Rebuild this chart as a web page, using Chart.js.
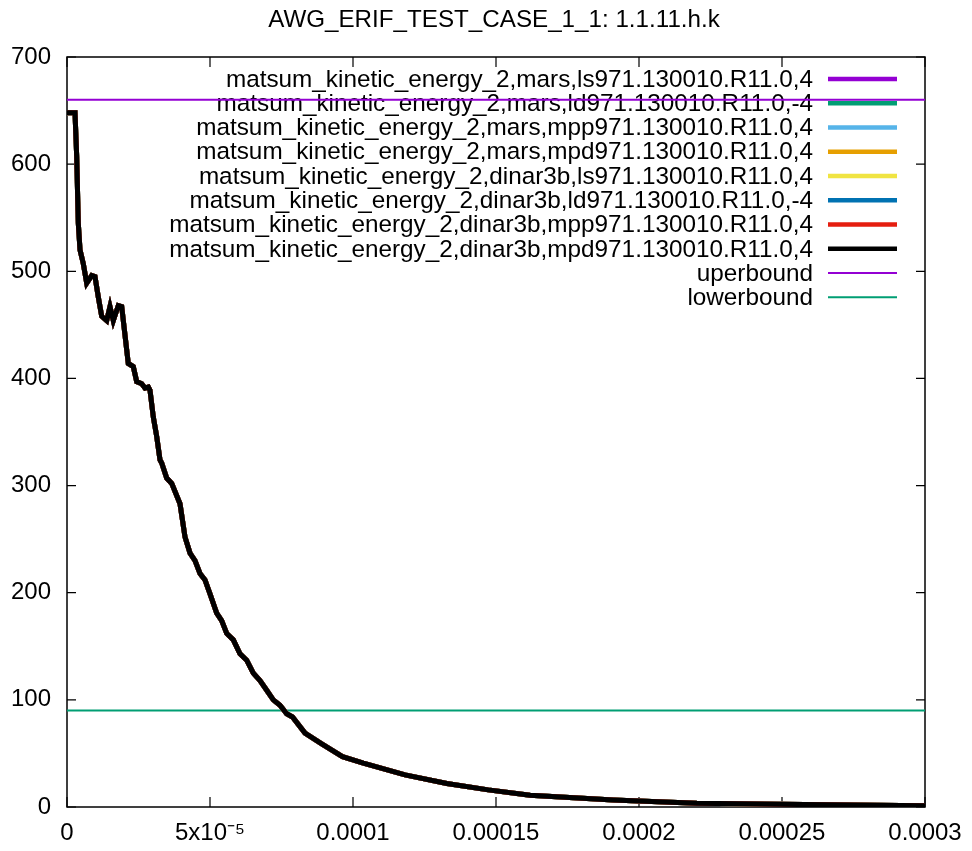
<!DOCTYPE html>
<html>
<head>
<meta charset="utf-8">
<script src="https://cdn.jsdelivr.net/npm/chart.js@4.4.0/dist/chart.umd.min.js"></script>
<style>
  body { margin: 0; background: #fff; }
  canvas { display: block; }
</style>
</head>
<body>
<canvas id="ke-chart" width="972" height="851"></canvas>
<script>
// values
var chartTitle = 'AWG_ERIF_TEST_CASE_1_1: 1.1.11.h.k';

var timeSec = [0, 2.80e-6, 3.39e-6, 3.95e-6, 4.55e-6, 5.70e-6, 6.89e-6, 8.64e-6, 9.79e-6, 1.094e-5,
  1.213e-5, 1.388e-5, 1.503e-5, 1.619e-5, 1.794e-5, 1.913e-5, 2.143e-5, 2.318e-5, 2.437e-5, 2.612e-5,
  2.727e-5, 2.843e-5, 2.902e-5, 3.017e-5, 3.136e-5, 3.252e-5, 3.311e-5, 3.486e-5, 3.661e-5, 3.951e-5,
  4.126e-5, 4.301e-5, 4.476e-5, 4.650e-5, 4.825e-5, 5.000e-5, 5.234e-5, 5.409e-5, 5.584e-5, 5.815e-5,
  6.049e-5, 6.283e-5, 6.514e-5, 6.748e-5, 6.983e-5, 7.213e-5, 7.448e-5, 7.682e-5, 7.885e-5, 8.322e-5,
  8.906e-5, 9.633e-5, 1.036e-4, 1.182e-4, 1.328e-4, 1.473e-4, 1.619e-4, 1.910e-4, 2.202e-4, 2.493e-4,
  3.0e-4];

var kineticEnergy = [648, 648, 607, 545, 520, 507, 489, 496, 495, 476,
  458, 454, 467, 454, 468, 467, 414, 411, 397, 395,
  391, 392, 389, 364, 346, 324, 321, 307, 302, 283,
  252, 237, 230, 218, 212, 199, 181, 174, 162, 156,
  143, 137, 125, 118, 109, 100, 95, 87, 84, 69,
  59, 47, 41, 30, 22, 16, 11, 6.5, 3.4, 2.5,
  1.2];

var seriesNames = [
  'matsum_kinetic_energy_2,mars,ls971.130010.R11.0,4',
  'matsum_kinetic_energy_2,mars,ld971.130010.R11.0,-4',
  'matsum_kinetic_energy_2,mars,mpp971.130010.R11.0,4',
  'matsum_kinetic_energy_2,mars,mpd971.130010.R11.0,4',
  'matsum_kinetic_energy_2,dinar3b,ls971.130010.R11.0,4',
  'matsum_kinetic_energy_2,dinar3b,ld971.130010.R11.0,-4',
  'matsum_kinetic_energy_2,dinar3b,mpp971.130010.R11.0,4',
  'matsum_kinetic_energy_2,dinar3b,mpd971.130010.R11.0,4'
];
var seriesColors = ['#9400d3', '#009e73', '#56b4e9', '#e69f00', '#f0e442', '#0072b2', '#e51e10', '#000000'];

var boundNames = ['uperbound', 'lowerbound'];
var boundValues = [660, 90];
var boundColors = ['#9400d3', '#009e73'];

var xRange = [0, 0.0003];
var xTickLabels = ['0', '5x10\u207b\u2075', '0.0001', '0.00015', '0.0002', '0.00025', '0.0003'];
var yTickLabels = ['0', '100', '200', '300', '400', '500', '600', '700'];

var FONT = "'Liberation Sans', Arial, sans-serif";

function toPoints(xs, ys) {
  var pts = [];
  for (var i = 0; i < xs.length; i++) pts.push({x: xs[i], y: ys[i]});
  return pts;
}

var datasets = [];
seriesNames.forEach(function(name, i) {
  datasets.push({
    label: name,
    data: toPoints(timeSec, kineticEnergy),
    borderColor: seriesColors[i],
    backgroundColor: seriesColors[i],
    borderWidth: 5,
    pointRadius: 0,
    tension: 0,
    fill: false,
    order: 10 - i
  });
});
boundNames.forEach(function(name, i) {
  datasets.push({
    label: name,
    data: toPoints(xRange, [boundValues[i], boundValues[i]]),
    borderColor: boundColors[i],
    backgroundColor: boundColors[i],
    borderWidth: 2,
    pointRadius: 0,
    fill: false,
    order: 20
  });
});

// gnuplot look: title, key inside the plot, closed border, inward ticks
var gnuplotStyle = {
  id: 'gnuplotStyle',
  beforeDatasetsDraw: function(chart) {
    var ctx = chart.ctx;
    var area = chart.chartArea;
    ctx.save();
    ctx.fillStyle = '#000';
    ctx.font = '24.2px ' + FONT;
    ctx.textAlign = 'center';
    ctx.textBaseline = 'alphabetic';
    ctx.fillText(chartTitle, (area.left + area.right) / 2 - 2, 27);

    // key
    ctx.textAlign = 'right';
    ctx.textBaseline = 'middle';
    ctx.font = '24.3px ' + FONT;
    chart.data.datasets.forEach(function(ds, i) {
      var y = 79 + i * 24.26;
      ctx.fillStyle = '#000';
      ctx.fillText(ds.label, 813, y + 1);
      ctx.strokeStyle = ds.borderColor;
      ctx.lineWidth = ds.borderWidth > 3 ? 4.5 : 2;
      ctx.beginPath();
      ctx.moveTo(828, y);
      ctx.lineTo(897, y);
      ctx.stroke();
    });

    // border
    ctx.strokeStyle = '#000';
    ctx.lineWidth = 1.5;
    ctx.strokeRect(area.left, area.top, area.right - area.left, area.bottom - area.top);

    // inward ticks on all four sides
    ctx.lineWidth = 1.2;
    ctx.beginPath();
    chart.scales.x.ticks.forEach(function(t) {
      var px = chart.scales.x.getPixelForValue(t.value);
      ctx.moveTo(px, area.bottom); ctx.lineTo(px, area.bottom - 10);
      ctx.moveTo(px, area.top); ctx.lineTo(px, area.top + 10);
    });
    chart.scales.y.ticks.forEach(function(t) {
      var py = chart.scales.y.getPixelForValue(t.value);
      ctx.moveTo(area.left, py); ctx.lineTo(area.left + 9, py);
      ctx.moveTo(area.right, py); ctx.lineTo(area.right - 9, py);
    });
    ctx.stroke();
    ctx.restore();
  }
};

var ctx = document.getElementById('ke-chart').getContext('2d');
var keChart = new Chart(ctx, {
  type: 'line',
  data: { datasets: datasets },
  plugins: [gnuplotStyle],
  options: {
    responsive: false,
    animation: false,
    devicePixelRatio: 1,
    layout: { padding: { left: 0, top: 57, right: 47, bottom: 0 } },
    plugins: {
      legend: { display: false },
      title: { display: false },
      tooltip: { enabled: false }
    },
    scales: {
      x: {
        type: 'linear',
        min: xRange[0],
        max: xRange[1],
        grid: { display: false, drawTicks: false },
        border: { display: false },
        afterFit: function(scale) {
          scale.height = 44;
          scale.paddingLeft = 0;
          scale.paddingRight = 0;
        },
        ticks: {
          stepSize: 0.00005,
          autoSkip: false,
          maxRotation: 0,
          padding: 12,
          color: '#000',
          font: { family: FONT, size: 24 },
          callback: function(v, i) { return xTickLabels[i]; }
        }
      },
      y: {
        min: 0,
        max: 700,
        grid: { display: false, drawTicks: false },
        border: { display: false },
        afterFit: function(scale) { scale.width = 67; },
        ticks: {
          stepSize: 100,
          padding: 16,
          color: '#000',
          font: { family: FONT, size: 24 },
          callback: function(v, i) { return yTickLabels[i]; }
        }
      }
    }
  }
});
</script>
</body>
</html>
